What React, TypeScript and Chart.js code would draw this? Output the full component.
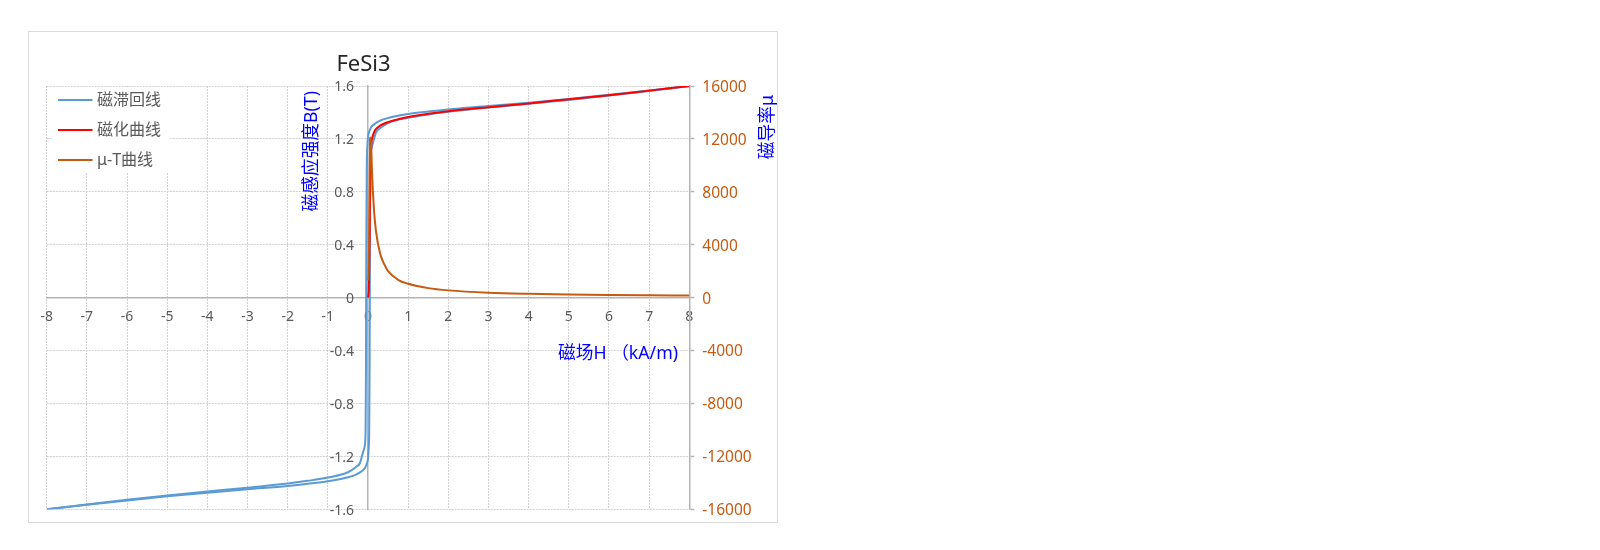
import { useEffect, useRef } from 'react';
import { Chart, registerables } from 'chart.js';

Chart.register(...registerables);

const FONT = "'Noto Sans', 'Noto Sans CJK SC', sans-serif";

// ---- texts ----
const chartTitle = 'FeSi3';
const xAxisTitle = '磁场H （kA/m)';
const yAxisTitle = '磁感应强度B(T)';
const y2AxisTitle = '磁导率μ';
const seriesNames = ['磁滞回线', '磁化曲线', 'μ-T曲线'];
const seriesColors = ['#5B9BD5', '#FF0000', '#C55A11'];

// ---- tick values ----
const xTickValues = [-8, -7, -6, -5, -4, -3, -2, -1, 0, 1, 2, 3, 4, 5, 6, 7, 8];
const yTickValues = [-1.6, -1.2, -0.8, -0.4, 0, 0.4, 0.8, 1.2, 1.6];
const y2TickValues = [-16000, -12000, -8000, -4000, 0, 4000, 8000, 12000, 16000];

// ---- hysteresis loop: ascending branch (H in kA/m, B in T) ----
const loopAscH = [-8, -7, -6, -5, -4, -3, -2, -1.5, -1, -0.5, -0.3, -0.15, -0.07, -0.03, 0, 0.015, 0.03, 0.04, 0.045, 0.05, 0.06, 0.08, 0.125, 0.2, 0.3, 0.5, 1, 1.5, 2, 3, 4, 5, 6, 7, 8];
const loopAscB = [-1.6, -1.566, -1.533, -1.502, -1.474, -1.448, -1.423, -1.407, -1.388, -1.358, -1.338, -1.31, -1.285, -1.255, -1.215, -1.15, -1.0, -0.5, 0, 0.5, 1.0, 1.12, 1.17, 1.25, 1.28, 1.32, 1.36, 1.385, 1.405, 1.437, 1.465, 1.495, 1.528, 1.563, 1.6];

// ---- hysteresis loop: descending branch ----
const loopDescH = [-8, -7, -6, -5, -4, -3, -2, -1.5, -1, -0.5, -0.3, -0.2, -0.125, -0.08, -0.06, -0.05, -0.045, -0.04, -0.03, -0.015, 0, 0.03, 0.07, 0.15, 0.3, 0.5, 1, 1.5, 2, 3, 4, 5, 6, 7, 8];
const loopDescB = [-1.6, -1.563, -1.528, -1.495, -1.465, -1.437, -1.405, -1.385, -1.36, -1.32, -1.28, -1.25, -1.17, -1.12, -1.0, -0.5, 0, 0.5, 1.0, 1.15, 1.215, 1.255, 1.285, 1.31, 1.338, 1.358, 1.388, 1.407, 1.423, 1.448, 1.474, 1.502, 1.533, 1.566, 1.6];

// ---- initial magnetization curve ----
const magH = [0, 0.01, 0.02, 0.03, 0.04, 0.05, 0.06, 0.08, 0.1, 0.15, 0.2, 0.3, 0.5, 0.75, 1, 1.5, 2, 3, 4, 5, 6, 7, 8];
const magB = [0, 0.02, 0.06, 0.2, 0.45, 0.75, 0.9, 1.15, 1.2, 1.25, 1.275, 1.3, 1.327, 1.348, 1.365, 1.39, 1.41, 1.44, 1.468, 1.5, 1.53, 1.565, 1.6];

// ---- permeability curve (right axis) ----
const muH = [0.01, 0.02, 0.03, 0.04, 0.05, 0.06, 0.08, 0.1, 0.15, 0.2, 0.3, 0.4, 0.5, 0.75, 1, 1.5, 2, 3, 4, 5, 6, 7, 8];
const muVal = [1300, 2400, 5300, 8900, 11900, 12100, 11400, 9500, 6600, 5000, 3350, 2550, 2000, 1350, 1050, 720, 550, 375, 290, 238, 202, 178, 159];

const zip = (xs: number[], ys: number[]) => xs.map((x, i) => ({ x, y: ys[i] }));

const fmt = (v: number) => String(Number(v.toFixed(2)));

const decorPlugin = {
  id: 'decor',
  beforeDraw(chart: any) {
    const ctx = chart.ctx as CanvasRenderingContext2D;
    ctx.save();
    ctx.fillStyle = '#ffffff';
    ctx.fillRect(0, 0, chart.width, chart.height);
    ctx.strokeStyle = '#D9D9D9';
    ctx.lineWidth = 1;
    ctx.strokeRect(28.5, 31.5, 749, 491);
    ctx.restore();
  },
  afterDraw(chart: any) {
    const ctx = chart.ctx as CanvasRenderingContext2D;
    ctx.save();
    // title
    ctx.fillStyle = '#262626';
    ctx.font = `22px ${FONT}`;
    ctx.textAlign = 'center';
    ctx.textBaseline = 'alphabetic';
    ctx.fillText(chartTitle, 363.5, 71);

    // axis titles
    ctx.fillStyle = '#0000FF';
    ctx.font = `17.7px ${FONT}`;
    ctx.textBaseline = 'middle';
    ctx.save();
    ctx.translate(312, 91);
    ctx.rotate(-Math.PI / 2);
    ctx.textAlign = 'right';
    ctx.fillText(yAxisTitle, 0, 0);
    ctx.restore();

    ctx.save();
    ctx.translate(768, 95);
    ctx.rotate(-Math.PI / 2);
    ctx.textAlign = 'right';
    ctx.fillText(y2AxisTitle, 0, 0);
    ctx.restore();

    ctx.textAlign = 'right';
    ctx.fillText(xAxisTitle, 678, 354);

    // legend
    ctx.fillStyle = '#ffffff';
    ctx.fillRect(52, 87, 118, 86);
    const rows = [100, 130, 160];
    ctx.font = `16px ${FONT}`;
    ctx.textAlign = 'left';
    ctx.textBaseline = 'middle';
    rows.forEach((ry, i) => {
      ctx.strokeStyle = seriesColors[i];
      ctx.lineWidth = 2;
      ctx.beginPath();
      ctx.moveTo(58, ry);
      ctx.lineTo(92.5, ry);
      ctx.stroke();
      ctx.fillStyle = '#595959';
      ctx.fillText(seriesNames[i], 97, ry);
    });
    ctx.restore();
  },
};

const zeroPad = (s: any) => {
  s.paddingLeft = 0;
  s.paddingRight = 0;
  s.paddingTop = 0;
  s.paddingBottom = 0;
};

export default function App() {
  const ref = useRef<HTMLCanvasElement>(null);
  useEffect(() => {
    const canvas = ref.current;
    if (!canvas) return;
    const lineBase = {
      showLine: true,
      pointRadius: 0,
      pointHoverRadius: 0,
      borderWidth: 2,
      cubicInterpolationMode: 'monotone' as const,
      fill: false,
    };
    const chart = new Chart(canvas, {
      type: 'scatter',
      data: {
        datasets: [
          { ...lineBase, label: seriesNames[2], data: zip(muH, muVal), borderColor: seriesColors[2], yAxisID: 'y2', order: 0 },
          { ...lineBase, label: seriesNames[1], data: zip(magH, magB), borderColor: seriesColors[1], yAxisID: 'y', order: 1 },
          { ...lineBase, label: seriesNames[0], data: zip(loopDescH, loopDescB), borderColor: seriesColors[0], yAxisID: 'y', order: 2 },
          { ...lineBase, label: seriesNames[0] + ' ', data: zip(loopAscH, loopAscB), borderColor: seriesColors[0], yAxisID: 'y', order: 3 },
        ],
      },
      options: {
        responsive: false,
        animation: false,
        devicePixelRatio: 1,
        layout: { padding: { left: 46.7, top: 86, right: 810.7, bottom: 40.7 } },
        plugins: {
          legend: { display: false },
          title: { display: false },
          tooltip: { enabled: false },
        },
        events: [],
        scales: {
          x: {
            type: 'linear',
            min: -8,
            max: 8,
            position: { y: 0 } as any,
            afterBuildTicks: (s: any) => { s.ticks = xTickValues.map((v) => ({ value: v })); },
            afterFit: zeroPad,
            ticks: {
              autoSkip: false,
              maxRotation: 0,
              padding: 11,
              color: '#595959',
              font: { family: FONT, size: 14 },
              callback: (v: any) => fmt(Number(v)),
            },
            grid: { color: '#D0D0D0', lineWidth: 1, drawTicks: false },
            border: { display: true, color: '#B4B4B4', width: 1.5, dash: [2, 1] },
          },
          y: {
            type: 'linear',
            min: -1.6,
            max: 1.6,
            position: { x: 0 } as any,
            afterBuildTicks: (s: any) => { s.ticks = yTickValues.map((v) => ({ value: v })); },
            afterFit: zeroPad,
            ticks: { display: false },
            grid: { color: '#D0D0D0', lineWidth: 1, drawTicks: false },
            border: { display: true, color: '#B4B4B4', width: 1.5, dash: [2, 1] },
          },
          // label carrier for the primary value axis: sits 14px left of the H = 0 axis line
          yLabels: {
            type: 'linear',
            axis: 'y',
            min: -1.6,
            max: 1.6,
            position: { x: -0.35 } as any,
            afterBuildTicks: (s: any) => { s.ticks = yTickValues.map((v) => ({ value: v })); },
            afterFit: zeroPad,
            ticks: {
              autoSkip: false,
              labelOffset: 1.5,
              color: '#595959',
              font: { family: FONT, size: 14 },
              callback: (v: any) => fmt(Number(v)),
            },
            grid: { display: false, drawTicks: false },
            border: { display: false },
          },
          y2: {
            type: 'linear',
            min: -16000,
            max: 16000,
            position: 'right',
            afterBuildTicks: (s: any) => { s.ticks = y2TickValues.map((v) => ({ value: v })); },
            afterFit: (s: any) => { zeroPad(s); s.width = 100; },
            ticks: {
              autoSkip: false,
              padding: 8,
              labelOffset: 1.5,
              color: '#C55A11',
              font: { family: FONT, size: 15.5 },
              callback: (v: any) => String(v),
            },
            grid: { display: true, drawOnChartArea: false, drawTicks: true, tickLength: 5, tickColor: '#B4B4B4', tickWidth: 1.5, color: '#B4B4B4' },
            border: { display: true, color: '#B4B4B4', width: 1.5 },
          },
        } as any,
      },
      plugins: [decorPlugin],
    });
    return () => chart.destroy();
  }, []);

  return (
    <div style={{ position: 'fixed', left: 0, top: 0, width: 1600, height: 550, background: '#fff' }}>
      <canvas ref={ref} width={1600} height={550} style={{ display: 'block', width: 1600, height: 550 }} />
    </div>
  );
}
